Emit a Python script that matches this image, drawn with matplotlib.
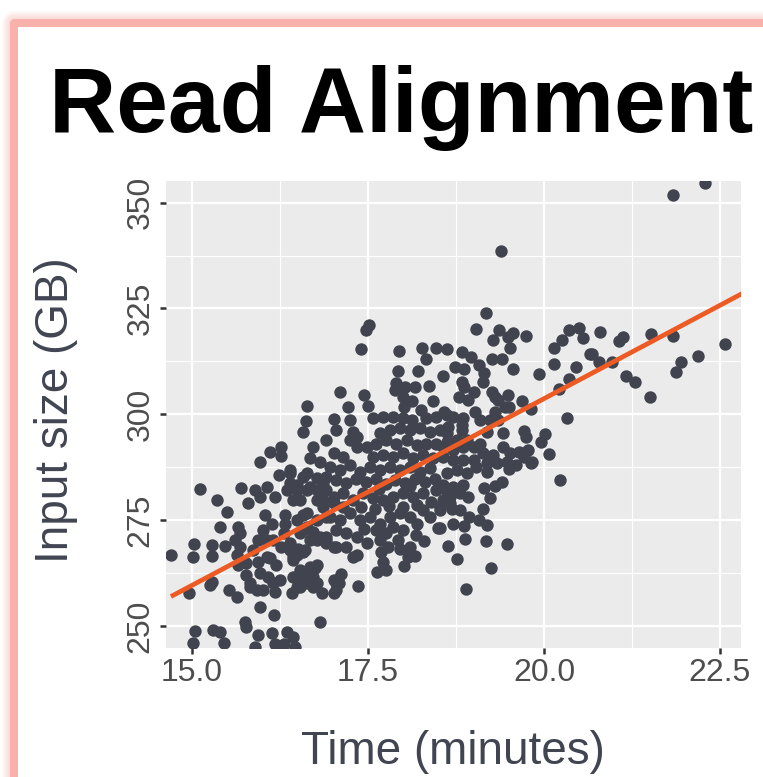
import numpy as np
import matplotlib
matplotlib.use("Agg")
import matplotlib.pyplot as plt
from matplotlib.patches import Rectangle

# values (minutes, GB)
time_minutes = [
    # sparse upper / right part
    21.83, 22.29, 19.39, 19.17, 19.04, 19.36, 19.27, 19.49, 19.56, 19.75,
    19.52, 19.26, 19.41, 19.56, 19.93, 20.15, 20.25, 20.36, 20.50, 20.56,
    20.80, 20.66, 20.78, 20.96, 21.06, 21.13, 21.52, 21.84, 22.57, 22.19,
    21.95, 21.88, 21.16, 21.29, 21.51, 20.15, 20.45, 20.36, 20.21, 20.33,
    19.69, 19.81, 19.72, 19.75, 20.01, 19.96, 20.07, 19.83, 19.42, 19.69,
    19.77, 20.68,
    # lower right
    20.23, 19.82, 19.48, 19.25, 18.89, 19.17, 18.88, 18.64, 18.76, 19.19,
    19.08, 18.86, 18.71, 18.93, 19.13, 19.23, 19.15, 19.40, 19.30, 18.92,
    19.50, 18.52, 18.70,
    # band 18.5 - 19.8
    18.62, 18.83, 18.96, 19.08, 18.74, 18.86, 18.56, 19.15, 19.13, 18.84,
    18.86, 19.01, 19.26, 19.30, 18.80, 18.92, 19.49, 19.35, 19.44, 19.51,
    19.30, 19.02, 18.58, 18.71, 18.85, 19.09, 19.23, 19.35, 18.64, 18.83,
    19.19, 18.62, 18.76, 18.90, 18.57, 18.71, 18.85, 19.00, 19.09, 19.14,
    19.28, 19.42, 19.52, 19.64, 19.71, 18.57, 18.71, 18.85, 19.00, 19.19,
    19.33, 19.47, 19.61,
    18.62, 18.76, 18.90, 19.04, 19.19, 18.57, 18.71, 18.85, 18.57, 18.66,
    18.52,
    # centre, upper half
    17.47, 17.40, 17.94, 18.27, 18.46, 18.33, 17.93, 18.21, 17.90, 17.88,
    18.02, 18.17, 18.37, 18.00, 18.12, 18.42, 18.01, 18.25, 17.10, 17.45,
    17.50, 17.21, 16.64, 16.62, 16.58, 17.02, 17.04, 17.25, 17.29, 17.57,
    17.71, 17.86, 18.00, 18.12, 18.33, 18.47, 18.62, 17.67, 17.81, 17.95,
    18.10, 18.24, 18.38, 18.52, 18.83, 16.72, 16.91, 16.67, 16.82, 17.01,
    17.15, 17.34, 17.34, 17.24, 17.48, 17.62, 17.76, 17.90, 18.05, 18.19,
    18.33, 18.47, 18.62, 17.57, 17.71, 17.86, 18.00, 18.14, 18.28, 18.42,
    16.96, 17.10, 17.24, 17.39, 17.53, 17.67, 17.81, 17.95, 18.10, 18.24,
    18.38, 16.39, 16.58, 16.77, 16.49, 16.68, 16.86, 17.05, 17.19,
    # left part
    14.70, 15.11, 15.36, 15.50, 15.40, 15.03, 15.02, 15.29, 15.28, 15.47,
    15.70, 15.97, 16.11, 16.27, 16.26, 15.80, 15.89, 16.06, 15.97, 16.23,
    16.18, 16.35, 16.63, 15.66, 15.68, 15.61, 15.68, 15.64, 16.04, 16.13,
    16.01, 15.94, 16.06, 16.32, 16.32, 16.58, 16.63, 16.27, 16.39, 16.51,
    16.60, 16.44, 15.87, 15.94, 15.77, 16.11, 16.20, 15.66, 15.77, 15.82,
    15.92, 16.08, 16.15, 16.25, 16.01, 16.18, 16.44, 16.53, 16.42, 16.63,
    16.72, 16.75, 16.84, 17.01, 17.05, 15.52, 15.64, 15.25, 15.28, 14.96,
    15.96, 16.17, 16.82, 15.75, 15.77, 15.94, 16.13, 16.35, 16.44, 15.04,
    15.30, 15.40, 15.02, 15.45, 15.89, 16.18, 16.30, 16.46,
    16.63, 16.91, 16.77, 16.91, 17.01, 16.77, 16.53, 16.86, 16.91, 16.77,
    16.82, 16.91, 17.01, 16.67, 16.53, 16.72, 16.39, 16.49, 16.67, 16.77,
    16.53, 16.77, 17.01, 17.05, 16.30, 16.15, 16.06, 15.82, 15.97,
    # centre, lower half
    17.36, 17.12, 17.09, 17.63, 17.76, 18.01, 17.72, 17.69, 17.79, 17.67,
    18.10, 18.17, 18.07, 17.93, 17.86, 18.00, 18.18, 18.19, 18.50, 18.38,
    18.28, 18.52, 18.66, 18.81, 16.68, 16.58, 16.49, 16.72, 16.53, 16.58,
    16.44, 16.77, 16.91, 17.05, 17.19, 17.34, 17.48, 17.34, 17.19, 17.05,
    16.91, 16.72, 16.58, 16.63, 16.49, 16.86, 17.01, 17.15, 17.29, 17.43,
    17.57, 17.71, 17.86, 18.00, 18.14, 18.28, 18.47, 18.62, 18.81, 16.96,
    17.10, 17.24, 17.39, 17.53, 17.67, 17.81, 17.95, 18.10, 17.29, 17.62,
    17.76, 16.39, 16.49, 16.44, 17.51, 16.39,
    17.33, 17.47, 17.61, 17.75, 17.89, 18.03, 18.17, 18.31, 18.45, 17.40,
    17.60, 17.80, 18.00, 18.20, 17.45, 17.95, 18.30, 18.40, 17.15, 17.65,
    18.10,
]

input_gb = [
    351.7, 354.6, 338.5, 323.9, 320.2, 319.8, 317.5, 318.3, 319.1, 318.6,
    315.6, 313.1, 313.1, 310.7, 309.6, 315.6, 317.6, 319.8, 320.4, 318.1,
    319.4, 314.3, 312.4, 312.4, 317.4, 318.3, 319.0, 318.6, 316.6, 313.8,
    312.4, 309.9, 309.1, 307.6, 304.0, 311.9, 311.1, 308.3, 305.9, 299.1,
    303.2, 301.3, 296.1, 294.7, 295.3, 293.4, 290.7, 288.7, 295.5, 290.9,
    291.6, 314.2,
    284.5, 288.4, 269.3, 263.6, 258.7, 270.0, 270.6, 268.9, 265.9, 273.9,
    275.0, 273.5, 274.2, 275.8, 277.7, 280.2, 282.6, 284.1, 283.1, 280.5,
    287.0, 273.1, 277.6,
    315.4, 314.6, 313.5, 311.6, 311.2, 310.7, 309.1, 309.7, 307.7, 307.7,
    306.4, 305.3, 305.3, 304.0, 304.2, 303.4, 304.6, 303.4, 301.8, 301.7,
    300.6, 300.6, 300.6, 299.4, 299.1, 298.7, 298.7, 298.7, 297.1, 297.5,
    295.7, 295.5, 293.9, 293.9, 292.3, 291.6, 292.3, 292.3, 293.1, 290.8,
    290.4, 292.3, 290.8, 291.2, 290.0, 290.0, 289.2, 289.2, 289.2, 288.4,
    288.4, 288.8, 288.0,
    286.1, 286.8, 286.1, 287.6, 286.4, 283.3, 282.9, 283.3, 279.7, 280.5,
    277.4,
    319.9, 315.4, 314.9, 315.7, 315.6, 313.1, 310.3, 310.3, 307.5, 305.7,
    306.5, 306.5, 306.7, 304.2, 303.2, 303.2, 301.8, 301.0, 305.3, 304.6,
    302.0, 301.7, 302.0, 298.5, 295.7, 298.8, 296.3, 298.7, 295.9, 299.1,
    299.3, 299.3, 299.1, 298.7, 299.1, 299.3, 299.8, 295.5, 296.3, 296.7,
    296.3, 296.7, 295.9, 296.3, 296.3, 292.3, 293.9, 289.6, 288.8, 290.8,
    290.0, 292.3, 294.7, 293.9, 292.3, 293.1, 293.9, 293.1, 293.9, 292.7,
    293.1, 293.1, 293.5, 290.0, 290.4, 290.0, 290.8, 289.6, 290.4, 289.6,
    287.6, 286.8, 288.0, 286.4, 287.6, 286.8, 287.6, 286.8, 287.6, 286.4,
    287.2, 286.1, 285.3, 284.9, 283.3, 282.9, 283.7, 284.5, 283.7,
    266.8, 282.3, 279.7, 277.0, 273.4, 269.3, 266.4, 269.1, 266.6, 268.9,
    282.5, 288.8, 291.0, 292.2, 290.1, 279.0, 282.1, 282.9, 280.5, 285.7,
    280.5, 282.1, 282.1, 273.4, 271.9, 270.3, 268.7, 266.8, 276.2, 274.2,
    272.7, 270.3, 270.3, 276.2, 274.2, 276.2, 273.4, 268.7, 267.9, 268.3,
    267.9, 266.4, 267.9, 265.2, 264.8, 266.0, 264.4, 264.4, 262.0, 259.3,
    258.5, 261.6, 260.1, 260.8, 258.5, 258.1, 261.6, 259.3, 257.7, 260.1,
    261.6, 263.6, 257.7, 257.7, 260.1, 258.5, 256.9, 259.7, 260.5, 257.7,
    254.6, 252.6, 250.9, 250.9, 249.7, 247.9, 248.3, 248.5, 247.5, 248.8,
    249.0, 248.6, 245.9, 245.9, 245.1, 245.7, 245.7, 245.1,
    286.1, 285.3, 282.1, 282.1, 279.0, 279.7, 279.7, 278.2, 275.8, 275.0,
    271.1, 270.3, 268.7, 270.3, 271.9, 272.3, 269.5, 266.8, 263.2, 264.4,
    262.4, 260.1, 260.8, 258.5, 271.9, 270.3, 266.4, 260.1, 262.4,
    259.4, 262.2, 260.1, 262.8, 263.2, 264.2, 265.2, 267.5, 268.7, 270.3,
    268.7, 266.5, 266.4, 270.3, 273.4, 272.7, 271.6, 274.2, 273.2, 275.8,
    277.4, 278.2, 279.0, 277.4, 264.0, 261.2, 259.3, 259.3, 263.2, 267.5,
    265.6, 270.3, 269.5, 268.7, 268.7, 266.8, 269.5, 271.1, 271.9, 272.7,
    271.1, 271.9, 272.7, 276.6, 275.0, 279.7, 280.5, 281.3, 279.7, 281.3,
    280.2, 279.7, 280.5, 281.3, 280.5, 281.3, 282.1, 281.7, 281.3, 275.8,
    275.0, 276.6, 275.0, 275.8, 274.2, 275.8, 276.6, 275.8, 266.4, 272.7,
    271.9, 283.7, 282.1, 279.7, 321.1, 286.8,
    284.6, 283.9, 284.8, 283.5, 284.4, 283.7, 284.6, 283.9, 284.8, 278.2,
    277.6, 278.3, 278.0, 278.5, 272.8, 268.2, 270.1, 279.4, 278.0, 282.3,
    283.0,
]

x_ticks = [15.0, 17.5, 20.0, 22.5]
x_ticklabels = ["15.0", "17.5", "20.0", "22.5"]
y_ticks = [250, 275, 300, 325, 350]
y_ticklabels = ["250", "275", "300", "325", "350"]

W, H = 763, 777
plt.rcParams['font.family'] = ['Liberation Sans', 'DejaVu Sans']

fig = plt.figure(figsize=(W / 100, H / 100), dpi=100)
fig.patch.set_facecolor('white')


def px_rect(x0, y0, x1, y1, **kw):
    # rectangle given in pixel coordinates from the top-left corner
    return Rectangle((x0 / W, 1 - y1 / H), (x1 - x0) / W, (y1 - y0) / H,
                     transform=fig.transFigure, **kw)


# card with soft salmon border, kept behind the axes
for k in range(6, 0, -1):
    fig.add_artist(px_rect(14, 22.5, W + 60, H + 60, fill=False,
                           edgecolor='#F6A39B', alpha=0.07,
                           linewidth=(8 + 2.6 * k) * 0.72, joinstyle='round',
                           zorder=-5))
fig.add_artist(px_rect(18, 27, W + 60, H + 60, facecolor='white',
                       edgecolor='none', zorder=-4))
fig.add_artist(px_rect(14, 22.5, W + 60, H + 60, fill=False,
                       edgecolor='#F8B2AB', linewidth=8 * 0.72,
                       joinstyle='round', zorder=-3))

fig.text(49 / W, 1 - 132 / H, "Read Alignment", fontsize=67,
         fontweight='bold', color='black', ha='left', va='baseline')

ax = fig.add_axes([166 / W, 1 - 648 / H, 575 / W, 467 / H])
ax.set_facecolor('#EBEBEB')
for s in ax.spines.values():
    s.set_visible(False)

ax.scatter(time_minutes, input_gb, s=80, color='#41444F', linewidths=0,
           zorder=3)

slope, intercept = np.polyfit(time_minutes, input_gb, 1)
xs = np.array([min(time_minutes), 23.5])
ax.plot(xs, intercept + slope * xs, color='#EE5A24', linewidth=3.4,
        zorder=4, solid_capstyle='butt')

ax.set_xlim(14.63, 22.8)
ax.set_ylim(244.8, 355.1)

ax.set_xticks(x_ticks)
ax.set_xticklabels(x_ticklabels)
ax.set_yticks(y_ticks)
ax.set_yticklabels(y_ticklabels, rotation=90, va='center')
ax.set_xticks([16.25, 18.75, 21.25], minor=True)
ax.set_yticks([262.5, 287.5, 312.5, 337.5], minor=True)
ax.tick_params(which='minor', length=0)
ax.tick_params(which='major', length=4.5, width=1.8, color='#333333',
               labelsize=23, labelcolor='#4D4D4D', pad=3)
ax.grid(which='major', color='white', linewidth=1.6)
ax.grid(which='minor', color='white', linewidth=0.8)
ax.set_axisbelow(True)

fig.text(453 / W, 1 - 764 / H, "Time (minutes)", fontsize=33,
         color='#414552', ha='center', va='baseline')
fig.text(56 / W, 1 - 410 / H, "Input size (GB)", fontsize=33,
         color='#414552', ha='center', va='center', rotation=90)

fig.savefig("out.png", dpi=100)
